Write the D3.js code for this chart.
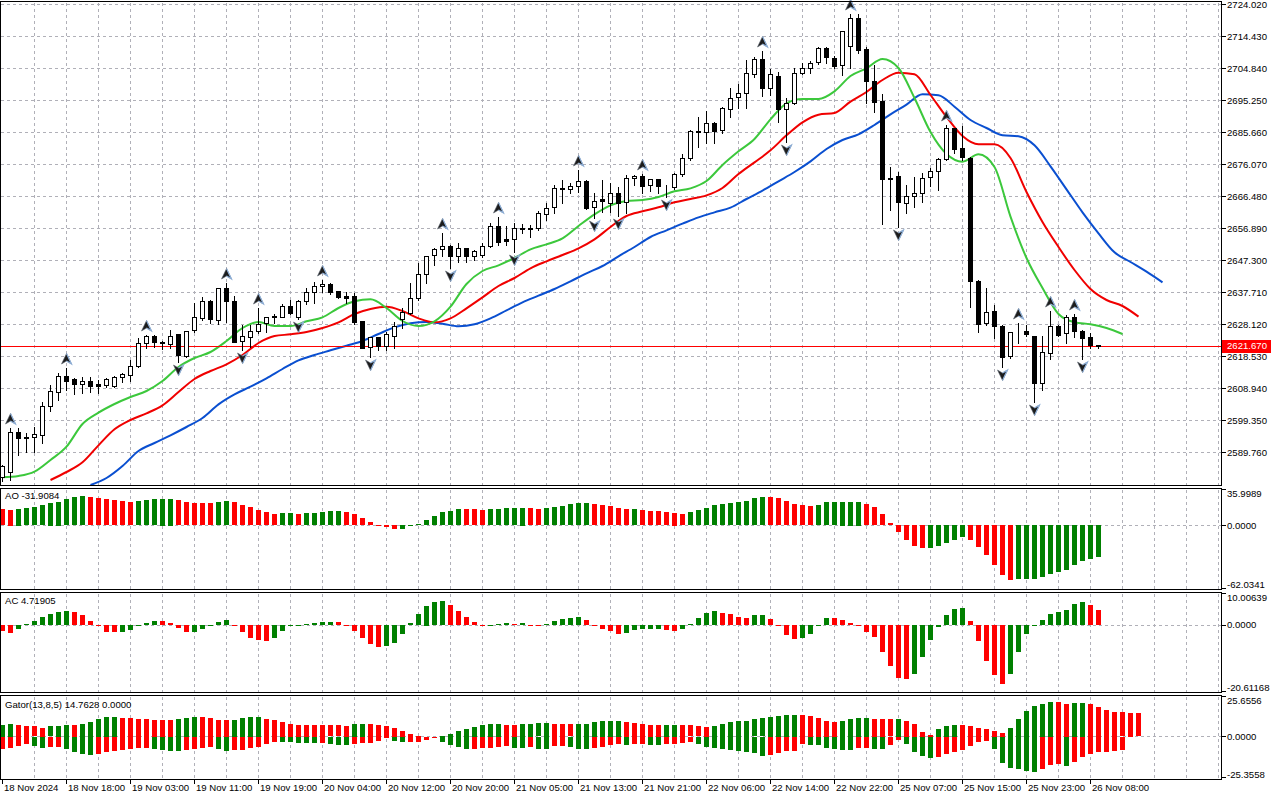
<!DOCTYPE html>
<html>
<head>
<meta charset="utf-8">
<script src="https://cdn.jsdelivr.net/npm/d3@7"></script>
<style>
  body { margin: 0; background: #fff; }
  svg text { font-family: "Liberation Sans", Arial, sans-serif; font-size: 9.6px; fill: #000; }
</style>
</head>
<body>
<div id="chart"></div>
<script>
// ---- data (XAUUSD H1 style) ----
const priceTicks = ["2724.020","2714.430","2704.840","2695.250","2685.660","2676.070","2666.480",
  "2656.890","2647.300","2637.710","2628.120","2618.530","2608.940","2599.350","2589.760"];

const timeLabels = ["18 Nov 2024","18 Nov 18:00","19 Nov 03:00","19 Nov 11:00","19 Nov 19:00",
  "20 Nov 04:00","20 Nov 12:00","20 Nov 20:00","21 Nov 05:00","21 Nov 13:00","21 Nov 21:00",
  "22 Nov 06:00","22 Nov 14:00","22 Nov 22:00","25 Nov 07:00","25 Nov 15:00","25 Nov 23:00",
  "26 Nov 08:00"];

const open = [2582.1,2583.6,2595.6,2594.1,2594.1,2595.0,2603.4,2607.9,2612.7,2611.5,
  2610.0,2610.9,2610.0,2609.7,2609.4,2612.1,2612.7,2615.4,2622.3,2624.4,
  2622.6,2622.3,2625.0,2618.7,2626.2,2629.8,2634.9,2629.5,2639.1,2635.2,
  2622.9,2624.4,2625.9,2628.3,2630.1,2630.4,2633.7,2630.1,2634.9,2637.6,
  2639.4,2640.0,2637.9,2636.7,2636.7,2629.2,2621.1,2624.1,2621.4,2624.7,
  2629.5,2631.3,2635.8,2643.0,2648.7,2650.5,2651.4,2648.4,2650.8,2648.4,
  2649.0,2651.7,2657.7,2653.5,2653.5,2656.8,2656.6,2656.8,2661.3,2663.1,
  2668.6,2668.8,2669.7,2671.2,2663.1,2665.5,2664.6,2667.6,2664.6,2671.8,
  2672.4,2669.7,2671.5,2668.8,2669.1,2673.0,2677.8,2685.9,2685.9,2688.6,
  2686.2,2692.8,2696.1,2697.3,2703.0,2707.5,2698.8,2702.7,2692.8,2694.6,
  2703.6,2705.1,2706.6,2710.8,2708.1,2705.7,2711.4,2719.8,2710.5,2701.2,
  2695.2,2672.1,2672.4,2664.6,2666.7,2667.6,2672.1,2673.9,2677.5,2686.8,
  2680.8,2678.1,2641.2,2628.3,2631.9,2627.7,2618.4,2625.6,2625.9,2624.4,
  2610.3,2619.6,2627.7,2625.3,2630.1,2626.2,2624.1,2621.9];
const high = [2586.0,2597.1,2597.1,2595.6,2597.4,2604.9,2610.0,2613.6,2615.1,2612.1,
  2612.4,2612.4,2611.5,2612.1,2612.7,2613.6,2617.5,2624.1,2625.0,2625.0,
  2623.2,2626.5,2625.3,2626.2,2634.6,2636.4,2635.5,2639.1,2640.6,2636.7,
  2628.0,2628.0,2633.1,2630.1,2631.3,2634.3,2635.5,2635.5,2639.1,2640.9,
  2641.5,2640.6,2638.2,2637.9,2637.6,2629.2,2624.4,2624.4,2625.9,2628.9,
  2633.1,2640.6,2646.6,2648.7,2651.1,2655.6,2652.0,2652.6,2651.1,2650.5,
  2652.6,2658.6,2660.4,2657.7,2658.6,2658.3,2658.0,2662.2,2664.6,2670.0,
  2671.5,2670.6,2674.5,2671.5,2667.6,2671.5,2670.6,2669.4,2673.0,2673.0,
  2673.3,2671.8,2671.8,2670.0,2673.6,2679.3,2686.5,2690.4,2692.2,2688.9,
  2693.4,2699.1,2700.3,2707.5,2708.4,2710.2,2704.8,2703.9,2696.1,2705.1,
  2706.6,2707.2,2711.4,2711.4,2708.7,2716.2,2721.3,2721.3,2711.4,2706.0,
  2697.3,2675.4,2673.9,2670.0,2672.4,2673.6,2675.1,2678.1,2688.0,2687.1,
  2687.7,2678.4,2641.5,2639.1,2634.0,2628.0,2625.9,2628.6,2628.0,2624.7,
  2624.7,2632.2,2628.0,2631.0,2631.3,2626.5,2625.6,2622.0];
const low = [2581.2,2581.5,2589.0,2589.9,2589.9,2592.6,2602.2,2605.5,2608.5,2607.3,
  2607.6,2607.9,2607.6,2609.4,2609.4,2610.9,2611.2,2615.4,2621.1,2621.4,
  2620.8,2621.1,2616.9,2618.4,2625.9,2629.5,2628.6,2628.3,2628.9,2622.9,
  2620.5,2621.4,2625.6,2625.9,2628.6,2630.4,2631.3,2629.8,2634.3,2634.6,
  2637.9,2637.3,2636.1,2634.6,2628.3,2621.1,2618.4,2620.5,2620.5,2621.1,
  2627.1,2631.3,2635.5,2640.6,2646.0,2648.7,2645.1,2646.9,2646.9,2647.5,
  2648.4,2651.4,2652.0,2652.0,2649.9,2655.6,2654.4,2656.5,2659.5,2661.6,
  2664.6,2667.6,2667.9,2662.8,2660.1,2661.9,2661.9,2660.7,2661.6,2670.0,
  2667.6,2668.2,2667.6,2666.4,2668.8,2672.7,2677.5,2681.4,2682.6,2682.6,
  2685.6,2690.4,2693.1,2693.1,2702.4,2696.7,2697.0,2688.9,2682.9,2694.3,
  2703.3,2703.6,2706.3,2706.6,2705.1,2703.0,2705.0,2709.6,2694.6,2691.9,
  2658.3,2662.5,2657.4,2661.6,2663.4,2664.9,2669.7,2668.5,2677.5,2679.6,
  2677.5,2633.4,2625.9,2628.0,2624.1,2615.4,2618.1,2622.6,2624.7,2604.9,
  2608.5,2617.8,2624.7,2622.6,2624.4,2617.8,2621.1,2621.1];
const close = [2585.4,2595.6,2593.8,2593.8,2595.0,2603.7,2607.9,2612.7,2611.2,2610.0,
  2610.9,2609.4,2609.4,2611.5,2612.1,2613.0,2615.4,2622.3,2624.4,2622.6,
  2622.3,2624.7,2618.7,2626.2,2630.1,2634.9,2629.5,2639.1,2635.2,2622.9,
  2624.4,2626.2,2628.0,2630.1,2630.4,2633.7,2631.6,2634.9,2637.6,2639.4,
  2640.0,2637.6,2636.1,2636.1,2628.9,2621.1,2624.1,2621.4,2625.0,2627.7,
  2631.6,2635.8,2643.0,2648.4,2650.5,2651.4,2648.4,2650.8,2648.4,2649.9,
  2651.7,2657.7,2652.9,2652.9,2656.8,2656.5,2656.8,2661.3,2663.1,2668.8,
  2668.8,2669.7,2671.2,2663.1,2664.9,2664.9,2667.6,2664.6,2671.8,2672.4,
  2669.4,2671.5,2669.4,2668.7,2673.0,2677.8,2685.9,2686.1,2688.6,2686.2,
  2692.8,2696.1,2697.3,2703.3,2707.5,2698.8,2703.0,2692.8,2694.6,2703.6,
  2705.1,2706.6,2710.8,2708.1,2705.7,2715.9,2719.8,2710.2,2700.9,2694.9,
  2671.8,2671.8,2664.6,2666.7,2667.6,2672.1,2673.9,2677.5,2686.8,2680.5,
  2678.1,2641.2,2628.3,2631.6,2627.4,2618.4,2625.6,2625.5,2625.0,2610.3,
  2619.6,2627.7,2625.0,2630.1,2625.9,2624.1,2621.7,2621.67];
const lastPrice = 2621.67;

// Alligator lines, one value every 2 bars starting at the given bar (lines run past the last bar)
const jawStart = 11, teethStart = 6, lipsStart = 0;
const jaw = [2580.0,2582.1,2585.7,2590.2,2592.6,2594.9,2597.4,2600.1,2604.2,2607.2,
  2609.5,2612.0,2614.8,2617.4,2619.0,2620.4,2621.8,2623.2,2625.3,2627.3,
  2628.5,2628.9,2628.4,2627.6,2628.2,2630.0,2632.4,2634.8,2636.8,2638.8,
  2641.1,2643.5,2645.7,2648.6,2651.4,2654.4,2656.4,2658.4,2660.3,2661.8,
  2663.2,2665.8,2668.3,2671.1,2673.9,2677.1,2680.8,2683.5,2685.2,2688.0,
  2691.2,2694.1,2697.2,2696.9,2693.5,2689.5,2687.1,2684.9,2684.6,2681.9,
  2675.6,2668.7,2661.8,2655.5,2649.8,2646.9,2644.0,2640.8];
const teeth = [2581.5,2583.9,2586.8,2591.9,2596.7,2599.5,2601.5,2603.9,2607.9,2611.8,
  2614.2,2616.2,2619.0,2622.6,2624.7,2625.2,2625.9,2627.1,2628.8,2631.3,
  2632.8,2633.5,2632.2,2630.0,2628.8,2630.0,2633.0,2636.3,2639.7,2642.1,
  2645.0,2647.1,2649.0,2651.0,2653.7,2657.4,2660.7,2662.1,2663.3,2664.8,
  2665.8,2666.9,2669.1,2673.3,2676.8,2680.4,2684.9,2688.8,2691.1,2691.6,
  2695.0,2697.9,2701.5,2703.7,2703.2,2697.0,2690.4,2684.7,2682.2,2682.2,
  2678.1,2667.9,2658.9,2651.4,2644.5,2638.8,2635.5,2633.7,2630.5];
const lips = [2582.3,2582.7,2584.0,2587.5,2591.5,2598.3,2601.7,2604.3,2606.4,2608.2,
  2611.2,2615.4,2618.1,2619.9,2623.2,2627.1,2628.9,2627.7,2627.7,2629.1,
  2630.3,2633.1,2635.1,2635.7,2633.1,2629.2,2627.7,2629.1,2633.5,2640.3,
  2644.2,2645.9,2648.1,2650.7,2652.2,2654.0,2657.7,2661.2,2663.9,2665.2,
  2665.5,2666.4,2668.1,2669.0,2671.2,2676.0,2680.1,2683.8,2689.7,2694.5,
  2695.8,2695.8,2698.1,2702.7,2705.0,2707.8,2705.1,2696.1,2685.9,2679.3,
  2677.0,2679.2,2675.4,2660.5,2648.1,2639.1,2631.3,2628.8,2628.2,2627.1,
  2625.3];

// bars carrying a fractal mark
const fractalUp = [1, 8, 18, 28, 32, 40, 55, 62, 72, 80, 95, 106, 118, 127, 131, 134];
const fractalDown = [22, 30, 37, 46, 56, 64, 74, 77, 83, 98, 112, 125, 129, 135];

const ao = [15.8,15.5,16.5,17.2,18.2,20.1,22.4,23.4,26.1,28.1,
  29.0,28.1,27.1,26.1,25.1,24.1,23.1,24.1,25.1,26.1,
  26.3,26.4,25.1,23.1,22.1,21.9,21.7,23.1,24.1,23.1,
  20.1,18.2,15.2,13.2,11.2,12.2,12.3,11.2,12.2,12.3,
  13.2,14.2,14.3,13.2,11.2,7.3,3.3,0.5,-1.5,-4.2,
  -3.9,-1.3,1.3,5.3,9.2,13.2,14.2,16.2,16.0,15.8,
  15.2,16.2,16.3,17.2,17.3,17.4,17.2,16.2,17.2,18.2,
  19.1,21.0,22.1,22.2,21.1,20.1,19.1,17.2,16.2,16.3,
  15.2,14.2,14.1,13.2,12.5,11.2,13.2,15.2,17.2,20.1,
  21.1,22.1,23.1,24.1,27.1,28.1,27.9,27.1,24.1,21.1,
  20.1,19.1,20.1,23.1,23.2,23.3,23.4,23.5,21.1,18.2,
  11.2,2.3,-7.3,-15.2,-21.1,-23.1,-23.0,-21.1,-18.2,-15.2,
  -12.2,-15.2,-22.1,-30.0,-39.9,-49.8,-54.8,-53.8,-53.7,-53.6,
  -51.8,-48.8,-46.9,-44.9,-39.9,-35.9,-33.9,-31.9084];
const ac = [-1.9,-2.5,-1.15,0.4,1.25,2.5,3.3,4.0,4.4,4.1,
  3.2,1.25,-0.4,-2.1,-2.15,-2.05,-1.5,-0.2,0.6,1.25,
  1.2,0.6,-0.8,-2.1,-2.05,-1.15,-0.4,0.95,1.55,-0.05,
  -2.1,-4.0,-4.8,-5.0,-4.0,-1.8,-0.4,0.1,0.3,0.5,
  0.95,1.0,0.9,-0.1,-1.9,-4.0,-6.0,-6.9,-6.6,-5.5,
  -2.7,0.6,3.3,6.1,7.2,7.5,6.4,4.4,2.5,0.95,
  -0.3,0.05,0.3,0.5,0.45,0.55,0.1,-0.05,0.2,1.25,
  1.9,2.2,2.5,1.55,-0.2,-1.25,-1.9,-2.8,-2.5,-1.55,
  -1.3,-1.2,-1.1,-1.55,-1.9,-1.2,0.3,2.2,3.75,4.4,
  3.75,3.45,2.5,2.2,3.1,3.15,1.9,-0.05,-3.1,-4.4,
  -4.1,-2.8,-0.1,2.2,2.15,1.55,0.6,-0.05,-2.2,-3.75,
  -8.4,-12.8,-16.6,-16.9,-15.3,-10.0,-4.7,-0.6,3.1,5.0,
  5.3,1.25,-5.0,-11.25,-15.6,-18.4,-15.3,-8.4,-2.8,-0.1,
  1.55,3.45,4.05,4.7,6.55,7.2,6.25,4.71905];
const gatorUp = [7.35,8.2,7.35,6.9,6.5,5.7,6.5,6.9,7.6,7.5,
  8.2,9.5,11.3,12.6,12.7,12.0,11.9,11.3,11.2,10.7,
  10.6,10.5,11.3,12.0,12.6,12.5,12.0,10.7,10.6,10.7,
  12.0,12.6,12.7,11.3,10.7,9.5,8.2,7.6,7.5,7.4,
  7.3,7.2,7.1,7.0,8.2,8.3,8.2,7.6,6.9,5.7,
  3.6,1.7,0.4,0,0,0.4,1.7,3.6,5.0,6.3,
  7.4,8.0,8.1,7.4,7.3,8.0,8.1,8.4,8.6,8.0,
  7.9,7.8,8.0,8.2,9.5,9.9,10.0,10.1,9.5,8.8,
  8.0,7.6,7.4,7.5,7.6,7.4,7.1,6.5,6.3,6.9,
  8.0,9.2,9.9,10.1,10.9,11.6,12.4,13.2,13.7,13.75,
  13.6,13.0,11.8,9.9,9.2,9.9,11.2,11.8,11.85,11.2,
  11.1,11.0,11.1,9.9,8.0,2.9,1.1,4.8,6.7,7.4,
  7.3,6.7,5.7,4.8,3.6,2.3,5.7,11.2,16.2,19.4,
  20.6,21.9,21.8,20.6,21.2,21.3,20.6,18.7,16.8,15.5,
  15.4,14.9,14.7628];
const gatorDown = [-7.8,-6.7,-5.5,-4.6,-5.5,-6.7,-6.6,-6.1,-7.6,-9.2,
  -10.5,-11.1,-10.5,-9.2,-8.6,-8.2,-7.6,-6.9,-6.8,-7.6,
  -8.2,-8.6,-8.7,-8.2,-7.6,-6.7,-6.1,-7.6,-8.6,-8.5,
  -8.0,-6.7,-6.1,-4.4,-3.2,-3.3,-3.4,-3.8,-3.9,-4.0,
  -3.9,-4.4,-5.0,-5.1,-4.4,-3.8,-3.7,-2.5,-0.3,-2.5,
  -3.4,-3.3,-3.2,-1.9,-0.6,-3.4,-5.0,-6.3,-7.5,-7.4,
  -6.9,-6.8,-6.3,-5.9,-6.9,-7.0,-6.5,-7.5,-7.7,-5.7,
  -5.6,-6.1,-7.5,-7.7,-7.1,-6.1,-5.2,-4.4,-5.0,-4.6,
  -4.4,-5.0,-5.1,-4.4,-4.3,-3.8,-3.1,-4.4,-6.1,-7.1,
  -7.5,-8.2,-8.8,-9.4,-10.1,-12.0,-11.3,-9.9,-9.0,-8.6,
  -4.6,-4.8,-5.0,-6.9,-7.5,-8.2,-8.25,-6.9,-6.85,-7.3,
  -7.35,-5.0,-1.9,-4.4,-9.4,-11.7,-13.2,-12.4,-10.7,-9.4,
  -8.2,-5.7,-3.2,-2.5,-7.5,-16.4,-19.5,-20.2,-21.4,-22.0,
  -20.2,-17.6,-17.2,-18.5,-15.5,-12.4,-10.7,-9.4,-9.35,-8.8,
  -8.2];

const aoLabels = ["35.9989", "0.0000", "-62.0341"];
const acLabels = ["10.00639", "0.0000", "-20.61168"];
const gatorLabels = ["25.6556", "0.0000", "-25.3558"];

// ---- layout ----
const GREEN = "#008000", RED = "#ff0000";
const right = 1221.5;
const panels = {
  main:  {top: 1.5,   bottom: 485.5},
  ao:    {top: 488.5, bottom: 589.5},
  ac:    {top: 592.5, bottom: 692.5},
  gator: {top: 695.5, bottom: 779.5}
};

const svg = d3.select("#chart").append("svg")
    .attr("width", 1280)
    .attr("height", 800)
    .style("display", "block");

const x = d3.scaleLinear().domain([0, 1]).range([2.5, 10.5]);
const y = d3.scaleLinear().domain([2579.7, 2725.5]).range([486, 0]);
const yAO = d3.scaleLinear().domain([-62.0341, 35.9989]).range([588, 489]);
const yAC = d3.scaleLinear().domain([-20.61168, 10.00639]).range([691, 593]);
const yG = d3.scaleLinear().domain([-25.3558, 25.6556]).range([777, 696]);

const half = v => Math.round(v - 0.5) + 0.5;

svg.append("defs").append("clipPath").attr("id", "clipMain")
  .append("rect").attr("x", 1).attr("y", 2).attr("width", 1220).attr("height", 483);

// ---- grid ----
const grid = svg.append("g")
    .attr("stroke", "#b0b0b8")
    .attr("stroke-dasharray", "3,3")
    .attr("shape-rendering", "crispEdges");

const gridX = d3.range(4, 153, 4).map(i => half(x(i)));
Object.values(panels).forEach(p => {
  grid.append("g").selectAll("line")
    .data(gridX)
    .enter().append("line")
      .attr("x1", d => d).attr("x2", d => d)
      .attr("y1", p.top + 1).attr("y2", p.bottom);
});

grid.append("g").selectAll("line")
  .data(priceTicks)
  .enter().append("line")
    .attr("x1", 1).attr("x2", right)
    .attr("y1", d => half(y(+d))).attr("y2", d => half(y(+d)));

[yAO, yAC, yG].forEach(s => {
  grid.append("line")
    .attr("x1", 1).attr("x2", right)
    .attr("y1", half(s(0))).attr("y2", half(s(0)));
});

// ---- histograms ----
function histogram(values, scale, colorOf) {
  const g = svg.append("g").attr("shape-rendering", "crispEdges");
  g.selectAll("rect")
    .data(values)
    .enter().append("rect")
      .attr("x", (d, i) => x(i) - 2.5)
      .attr("width", 5)
      .attr("y", d => Math.round(Math.min(scale(0), scale(d))))
      .attr("height", d => Math.max(Math.round(Math.abs(scale(d) - scale(0))), d === 0 ? 0 : 1))
      .attr("fill", (d, i) => colorOf(values, i));
}
// rising vs previous bar -> green, otherwise red (first bar takes the colour of the second)
const risingColor = (v, i) => {
  const j = i === 0 ? 1 : i;
  return v[j] > v[j - 1] ? GREEN : RED;
};
const growingColor = (v, i) => {
  const j = i === 0 ? 1 : i;
  return Math.abs(v[j]) > Math.abs(v[j - 1]) ? GREEN : RED;
};
histogram(ao, yAO, risingColor);
histogram(ac, yAC, risingColor);
histogram(gatorUp, yG, growingColor);
histogram(gatorDown, yG, growingColor);

// ---- alligator ----
const lineFor = start => d3.line()
    .x((d, j) => x(start + 2 * j))
    .y(d => y(d))
    .curve(d3.curveMonotoneX);

const gAll = svg.append("g").attr("clip-path", "url(#clipMain)").attr("fill", "none").attr("stroke-width", 2);
gAll.append("path").attr("d", lineFor(jawStart)(jaw)).attr("stroke", "#0a4fd0");
gAll.append("path").attr("d", lineFor(teethStart)(teeth)).attr("stroke", "#f00000");
gAll.append("path").attr("d", lineFor(lipsStart)(lips)).attr("stroke", "#3cc83c");

// ---- current price line ----
svg.append("line")
  .attr("x1", 1).attr("x2", right)
  .attr("y1", half(y(lastPrice))).attr("y2", half(y(lastPrice)))
  .attr("stroke", "#ff0000")
  .attr("shape-rendering", "crispEdges");

// ---- candles ----
const candles = svg.append("g").attr("shape-rendering", "crispEdges");
const bars = d3.range(open.length);
candles.selectAll("line.wick")
  .data(bars)
  .enter().append("line")
    .attr("class", "wick")
    .attr("x1", i => x(i)).attr("x2", i => x(i))
    .attr("y1", i => Math.round(y(high[i]))).attr("y2", i => Math.round(y(low[i])) + 1)
    .attr("stroke", "#000");
candles.selectAll("rect.body")
  .data(bars)
  .enter().append("rect")
    .attr("class", "body")
    .attr("x", i => x(i) - 2)
    .attr("width", 4)
    .attr("y", i => half(y(Math.max(open[i], close[i]))))
    .attr("height", i => Math.max(Math.round(Math.abs(y(open[i]) - y(close[i]))), 0))
    .attr("fill", i => close[i] >= open[i] ? "#fff" : "#000")
    .attr("stroke", "#000");

// ---- fractals (arrowhead glyph, dark face with a light bluish edge) ----
const arrowUp = "M0,-5.5 L5,5 L0,2 L-5,5 Z";
const edgeUp = "M0,-5.5 L5,5 L0,2";
const fr = svg.append("g");
function fractal(indices, sign, anchor, offset) {
  const g = fr.append("g");
  const marks = g.selectAll("g")
    .data(indices)
    .enter().append("g")
      .attr("transform", i => `translate(${x(i)},${y(anchor[i]) + offset}) scale(1,${sign})`);
  marks.append("path").attr("d", arrowUp).attr("fill", "#1c1c1c")
    .attr("stroke", "#5c6470").attr("stroke-width", 0.6);
  marks.append("path").attr("d", edgeUp).attr("fill", "none")
    .attr("stroke", "#8fb0d8").attr("stroke-width", 1.2);
}
fractal(fractalUp, 1, high, -9);
fractal(fractalDown, -1, low, 8);

// ---- panel borders ----
Object.values(panels).forEach(p => {
  svg.append("rect")
    .attr("x", 0.5).attr("y", p.top)
    .attr("width", right - 0.5).attr("height", p.bottom - p.top)
    .attr("fill", "none").attr("stroke", "#000")
    .attr("shape-rendering", "crispEdges");
});

// ---- right price axis ----
const axis = svg.append("g");
function rightLabels(items, panel) {
  items.forEach(([yy, txt]) => {
    axis.append("line")
      .attr("x1", right).attr("x2", right + 4)
      .attr("y1", half(yy)).attr("y2", half(yy))
      .attr("stroke", "#000").attr("shape-rendering", "crispEdges");
    const ty = panel ? Math.min(Math.max(yy, panel.top + 5), panel.bottom - 5) : yy;
    axis.append("text")
      .attr("x", 1227).attr("y", ty).attr("dy", "0.35em")
      .text(txt);
  });
}
rightLabels(priceTicks.map(t => [y(+t), t]));
rightLabels(aoLabels.map(t => [yAO(+t), t]), panels.ao);
rightLabels(acLabels.map(t => [yAC(+t), t]), panels.ac);
rightLabels(gatorLabels.map(t => [yG(+t), t]), panels.gator);

// current price tag
const py = y(lastPrice);
axis.append("rect")
  .attr("x", 1222).attr("y", Math.round(py) - 6)
  .attr("width", 49).attr("height", 13)
  .attr("fill", "#ff0000");
axis.append("text")
  .attr("x", 1227).attr("y", py).attr("dy", "0.35em")
  .style("fill", "#fff")
  .text(lastPrice.toFixed(3));

// ---- time axis ----
timeLabels.forEach((t, k) => {
  const xx = half(x(8 * k));
  axis.append("line")
    .attr("x1", xx).attr("x2", xx)
    .attr("y1", panels.gator.bottom).attr("y2", panels.gator.bottom + 4)
    .attr("stroke", "#000").attr("shape-rendering", "crispEdges");
  axis.append("text")
    .attr("x", xx + 1.5).attr("y", 788).attr("dy", "0.35em")
    .text(t);
});

// ---- indicator captions ----
svg.append("text").attr("x", 5).attr("y", 496).attr("dy", "0.35em").text("AO " + ao[ao.length - 1].toFixed(4));
svg.append("text").attr("x", 5).attr("y", 601).attr("dy", "0.35em").text("AC " + ac[ac.length - 1].toFixed(5));
svg.append("text").attr("x", 5).attr("y", 705).attr("dy", "0.35em")
  .text("Gator(13,8,5) " + gatorUp[gatorUp.length - 1].toFixed(4) + " 0.0000");
</script>
</body>
</html>
